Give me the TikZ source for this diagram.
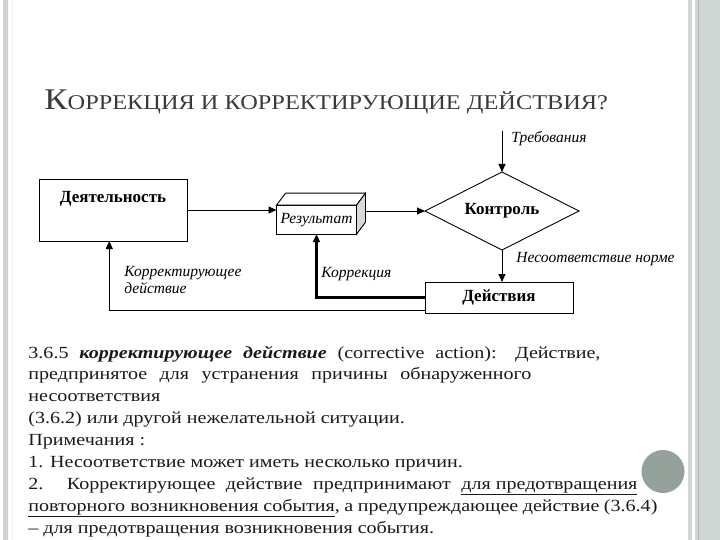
\documentclass[tikz,border=0pt]{standalone}
\usepackage{fontspec}
\setmainfont[FakeStretch=1.18]{Liberation Serif}
\newfontfamily\timesfont{Liberation Serif}
\newfontfamily\titlefont[FakeStretch=1.16]{Liberation Serif}
\usetikzlibrary{arrows.meta, positioning, calc, shapes.geometric}
\definecolor{framegray}{RGB}{208,216,214}
\definecolor{dotgray}{RGB}{149,161,155}
\definecolor{titlegray}{RGB}{58,58,58}
\definecolor{textdark}{RGB}{26,26,26}

\begin{document}
\begin{tikzpicture}[x=1pt, y=-1pt, line width=0.9pt,
    block/.style={draw, rectangle, inner sep=0pt, outer sep=0pt, font=\timesfont\bfseries\fontsize{17}{20}\selectfont},
    check/.style={draw, diamond, aspect=2, inner sep=0pt, outer sep=0pt, minimum width=154pt, minimum height=78pt, font=\timesfont\bfseries\fontsize{17}{20}\selectfont},
    flowlbl/.style={inner sep=0pt, anchor=west, font=\timesfont\itshape\fontsize{15.5}{17}\selectfont},
    bodyline/.style={anchor=base west, inner sep=0pt, text=textdark, font=\fontsize{17}{19}\selectfont},
    flow/.style={-{Triangle[length=8pt, width=7pt]}},
    heavy/.style={flow, line width=2.2pt}]

    \useasboundingbox (0,0) rectangle (720,540);
    \fill[white] (0,0) rectangle (720,540);
    \fill[gray!35] (3,0) rectangle (8,540);
    \draw[gray!12, line width=1pt] (12.5,0) -- (12.5,540);
    \fill[framegray] (688,0) rectangle (720,540);
    \fill[white] (692,0) rectangle (694.5,540);
    \draw[framegray!85!black, line width=0.6pt] (698,0) -- (698,540);

    \node[anchor=base west, inner sep=0pt, text=titlegray, font=\titlefont] (title) at (44,110)
        {\fontsize{30}{30}\selectfont К\fontsize{21}{21}\selectfont ОРРЕКЦИЯ И КОРРЕКТИРУЮЩИЕ ДЕЙСТВИЯ?};

    \node[block, minimum width=148pt, minimum height=62pt,
        label={[anchor=north, inner sep=0pt, yshift=-12pt, font=\timesfont\bfseries\fontsize{17}{20}\selectfont]north:Деятельность}] (act) at (113,210) {};

    \node[draw, inner sep=0pt, outer sep=0pt, minimum width=80pt, minimum height=29pt,
        font=\timesfont\itshape\fontsize{15.5}{17}\selectfont] (res) at (316.5,219.7) {Результат};
    \draw[fill=white] (res.north west) -- ++(9,-12) -- ++(80,0) -- (res.north east) -- cycle;
    \draw[fill=gray!30] (res.north east) -- ++(9,-12) -- ++(0,29) -- (res.south east) -- cycle;
    \coordinate (resout) at ($(res.north east)+(9,5.8)$);

    \node[check] (ctrl) at (502,211) {Контроль};
    \node[block, minimum width=148pt, minimum height=31pt] (dei) at (499,297.5) {Действия};

    \coordinate (req) at (502,131);
    \draw[flow] (req) -- (ctrl.north);
    \node[flowlbl] (reqlbl) at (511,139) {Требования};

    \draw[flow] (act.east) -- (act.east -| res.west);
    \draw[flow] (resout) -- (resout -| ctrl.west);
    \draw[flow] (ctrl.south) -- (ctrl.south |- dei.north);
    \node[flowlbl] (nclbl) at (516,259) {Несоответствие норме};

    \draw[heavy] (dei.west) -| (res.south);
    \node[flowlbl] (corlbl) at (321,274) {Коррекция};
    \draw[flow] ([yshift=-12.5pt]dei.west) -| ([xshift=-3.7pt]act.south);
    \node[flowlbl, anchor=north west, align=left] (calbl) at (124,266) {Корректирующее\\действие};

    \node[bodyline] (def1) at (28,358) {\makebox[572pt][s]{3.6.5 \textbf{\textit{корректирующее действие}} (corrective action): Действие,}};
    \node[bodyline] (def2) at (28,379.9) {\makebox[503pt][s]{предпринятое для устранения причины обнаруженного}};
    \node[bodyline] (def3) at (28,401.8) {несоответствия};
    \node[bodyline] (def4) at (28,423.7) {(3.6.2) или другой нежелательной ситуации.};
    \node[bodyline] (note) at (28,445.6) {Примечания :};
    \node[bodyline] (note1) at (28,467.5) {1. Несоответствие может иметь несколько причин.};
    \node[bodyline] (note2) at (28,489.4) {\makebox[609pt][s]{2. Корректирующее действие предпринимают \underline{для предотвращения}}};
    \node[bodyline] (note3) at (28,511.3) {\makebox[629pt][s]{\underline{повторного возникновения события}, а предупреждающее действие (3.6.4)}};
    \node[bodyline] (note4) at (28,533.2) {– для предотвращения возникновения события.};

    \fill[dotgray] (663,471.5) circle[radius=21.5pt];
\end{tikzpicture}
\end{document}
